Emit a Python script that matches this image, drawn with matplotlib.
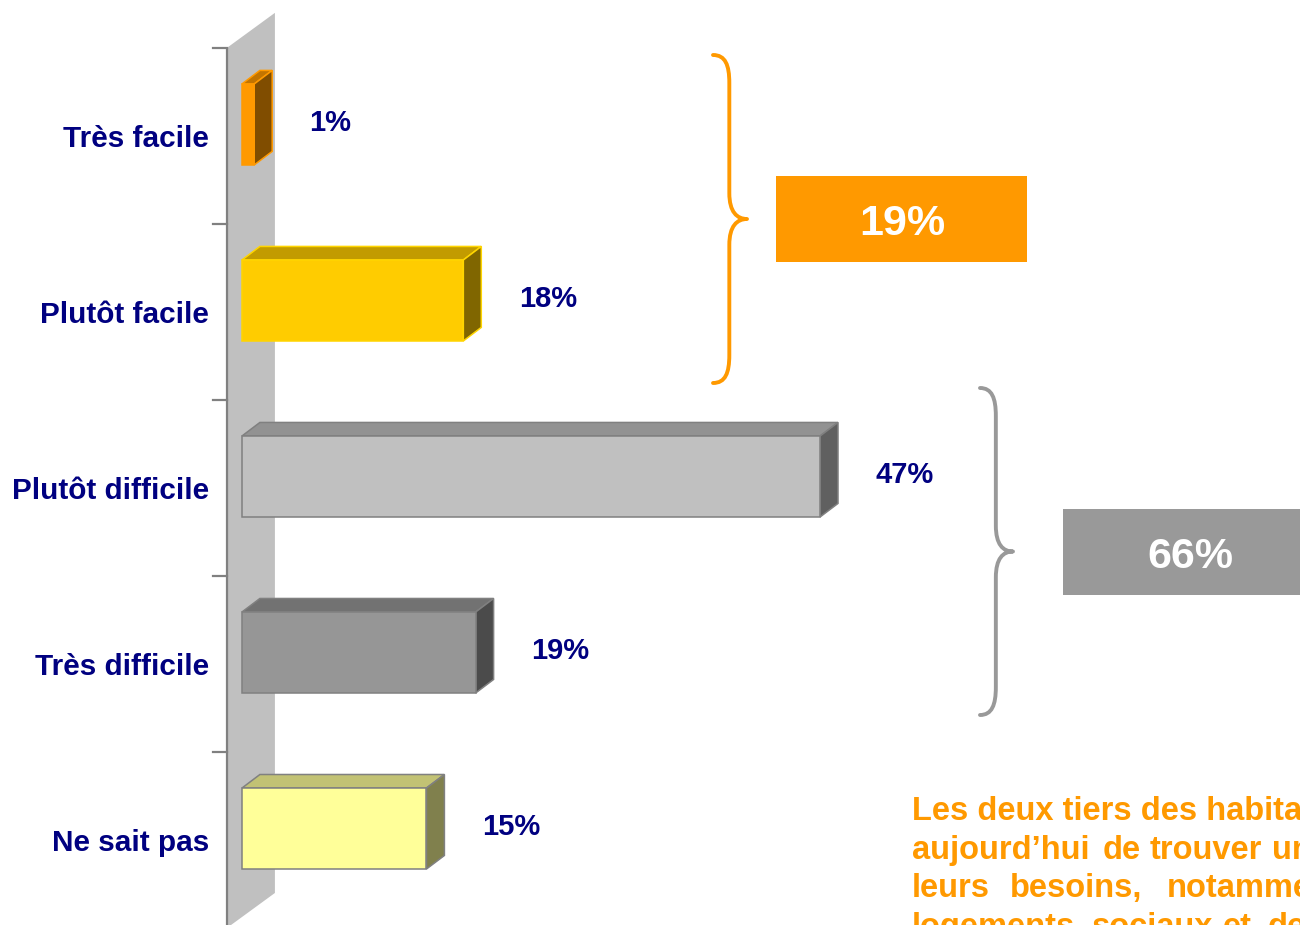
import matplotlib
matplotlib.use("Agg")
import matplotlib.pyplot as plt
from matplotlib.patches import Polygon, Rectangle, PathPatch
from matplotlib.path import Path
from matplotlib.colors import to_rgb
import numpy as np

plt.rcParams['font.family'] = ['Liberation Sans', 'DejaVu Sans']

# data
categories = ['Très facile', 'Plutôt facile', 'Plutôt difficile', 'Très difficile', 'Ne sait pas']
values = [1, 18, 47, 19, 15]
easy_total = values[0] + values[1]
hard_total = values[2] + values[3]

# styles
front_colors = ['#FF9900', '#FFCC00', '#C0C0C0', '#969696', '#FFFF99']
edge_colors = ['#FF9900', '#FFD500', '#808080', '#808080', '#808080']
navy = '#000080'
orange = '#FF9900'
grey = '#999999'


def shade(c, k):
    return tuple(np.array(to_rgb(c)) * k)


fig = plt.figure(figsize=(13, 9.25), dpi=100)

# chart: x in percent, y in category index (0 at top)
ax = fig.add_axes([0, 0, 1, 1])
ax.set_xlim(-19.67, 86.02)
ax.set_ylim(4.548, -0.707)
ax.axis('off')

H = 0.23      # half bar height
DX = 1.46     # depth offset, percent units
DY = 0.077    # depth offset, category units

# back wall + axis
wall_x0, wall_dx = -1.22, 3.9
ax.add_patch(Polygon([(wall_x0, -0.435), (wall_x0 + wall_dx, -0.634),
                      (wall_x0 + wall_dx, 4.366), (wall_x0, 4.565)],
                     closed=True, fc='#C0C0C0', ec='none', zorder=1))
ax.plot([wall_x0, wall_x0], [-0.435, 4.565], color='#808080', lw=1.6, zorder=2,
        solid_capstyle='butt')
for k in range(6):
    ax.plot([-2.36, wall_x0], [-0.435 + k, -0.435 + k], color='#808080', lw=1.6, zorder=2)

for i, (cat, v) in enumerate(zip(categories, values)):
    fc = front_colors[i]
    ec = edge_colors[i]
    top = [(0, i - H), (v, i - H), (v + DX, i - H - DY), (DX, i - H - DY)]
    side = [(v, i - H), (v + DX, i - H - DY), (v + DX, i + H - DY), (v, i + H)]
    ax.add_patch(Polygon(top, closed=True, fc=shade(fc, 0.76), ec=ec, lw=1.1, zorder=3))
    ax.add_patch(Polygon(side, closed=True, fc=shade(fc, 0.5), ec=ec, lw=1.1, zorder=3))
    ax.add_patch(Rectangle((0, i - H), v, 2 * H, fc=fc, ec=ec, lw=1.1, zorder=4))
    ax.text(-2.68, i + 0.13, cat, ha='right', va='baseline', fontsize=21.4,
            fontweight='bold', color=navy)
    ax.text(v + 4.5, i + 0.035, f'{v}%', ha='left', va='baseline', fontsize=21,
            fontweight='bold', color=navy)

# annotations layer in pixel units
deco = fig.add_axes([0, 0, 1, 1])
deco.set_xlim(0, 1300)
deco.set_ylim(925, 0)
deco.axis('off')


def brace(x0, y0, y1, w, color):
    xm = x0 + w * 0.48
    xt = x0 + w
    ym = (y0 + y1) / 2
    r = 28
    verts = [(x0, y0), (xm - 4, y0), (xm, y0 + 10), (xm, y0 + r),
             (xm, ym - r + 2),
             (xm, ym - 7), (xt - 10, ym), (xt, ym),
             (xt - 10, ym), (xm, ym + 7), (xm, ym + r - 2),
             (xm, y1 - r),
             (xm, y1 - 10), (xm - 4, y1), (x0, y1)]
    codes = [Path.MOVETO, Path.CURVE4, Path.CURVE4, Path.CURVE4,
             Path.LINETO,
             Path.CURVE4, Path.CURVE4, Path.CURVE4,
             Path.CURVE4, Path.CURVE4, Path.CURVE4,
             Path.LINETO,
             Path.CURVE4, Path.CURVE4, Path.CURVE4]
    deco.add_patch(PathPatch(Path(verts, codes), fc='none', ec=color, lw=2.8,
                             capstyle='round', joinstyle='round'))


brace(713, 55, 383, 34, orange)
brace(980, 388, 715, 33, grey)

deco.add_patch(Rectangle((776, 176), 251, 86, fc=orange, ec='none'))
deco.text(902, 235, f'{easy_total}%', ha='center', va='baseline', fontsize=31,
          fontweight='bold', color='white')
deco.add_patch(Rectangle((1063, 509), 260, 86, fc=grey, ec='none'))
deco.text(1190, 568, f'{hard_total}%', ha='center', va='baseline', fontsize=31,
          fontweight='bold', color='white')

# commentary (justified block, cut by the page edge as in the source)
note_lines = [
    [(912, 'Les deux tiers des habitants')],
    [(912, 'aujourd’hui'), (1103, 'de'), (1150, 'trouver'), (1272, 'un')],
    [(912, 'leurs'), (1010, 'besoins,'), (1167, 'notamment')],
    [(912, 'logements'), (1092, 'sociaux'), (1223, 'et'), (1268, 'de')],
]
for k, words in enumerate(note_lines):
    for x, w in words:
        deco.text(x, 820 + 38.7 * k, w, ha='left', va='baseline', fontsize=23.5,
                  fontweight='bold', color=orange)

fig.savefig('out.png', dpi=100)
